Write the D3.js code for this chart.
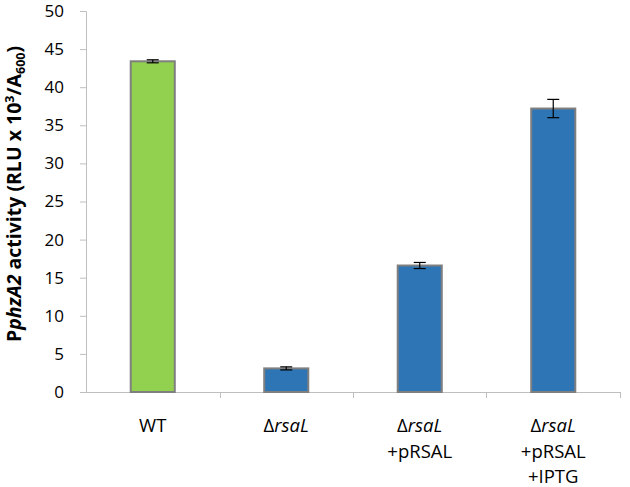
<!DOCTYPE html>
<html>
<head>
<meta charset="utf-8">
<script src="https://cdn.jsdelivr.net/npm/d3@7"></script>
<style>
body { margin: 0; background: #fff; }
text { font-family: "Open Sans", sans-serif; }
</style>
</head>
<body>
<script>
var width = 630, height = 487;

// data
var categories = ["WT", "rsaL", "rsaL+pRSAL", "rsaL+pRSAL+IPTG"];
var values = [43.4, 3.1, 16.6, 37.2];
var errors = [0.2, 0.2, 0.4, 1.2];
var barColors = ["#92D050", "#2E75B6", "#2E75B6", "#2E75B6"];
var yTicks = [0, 5, 10, 15, 20, 25, 30, 35, 40, 45, 50];
// each label is a list of lines; each line a list of [text, italic]
var labelLines = [
  [[["WT", false]]],
  [[["\u0394", false], ["rsaL", true]]],
  [[["\u0394", false], ["rsaL", true]], [["+pRSAL", false]]],
  [[["\u0394", false], ["rsaL", true]], [["+pRSAL", false]], [["+IPTG", false]]]
];

var margin = {left: 86, right: 10, top: 11, bottom: 95};

var svg = d3.select("body").append("svg")
  .attr("width", width).attr("height", height);

var x = d3.scaleBand()
  .domain(categories)
  .range([margin.left, 620])
  .paddingInner(0.67)
  .paddingOuter(0.335);

var y = d3.scaleLinear()
  .domain([0, 50])
  .range([392, margin.top]);

// y axis
var yAxis = svg.append("g")
  .attr("transform", "translate(" + margin.left + ",0)")
  .call(d3.axisLeft(y).tickValues(yTicks).tickSize(6).tickPadding(16));
yAxis.selectAll("path, line").attr("stroke", "#BFBFBF").attr("stroke-width", 1);
yAxis.selectAll("text").attr("font-size", 17).attr("fill", "#000")
  .style("font-family", "'Open Sans', sans-serif");

// x axis line with ticks between categories
var step = x.step();
var xAxis = svg.append("g");
xAxis.append("line")
  .attr("x1", margin.left).attr("x2", 620)
  .attr("y1", y(0) + 0.5).attr("y2", y(0) + 0.5)
  .attr("stroke", "#BFBFBF");
xAxis.selectAll(".xt")
  .data(categories)
  .enter().append("line")
  .attr("x1", function(d) { return Math.round(x(d) + x.bandwidth() / 2 + step / 2) + 0.5; })
  .attr("x2", function(d) { return Math.round(x(d) + x.bandwidth() / 2 + step / 2) + 0.5; })
  .attr("y1", y(0)).attr("y2", y(0) + 6)
  .attr("stroke", "#BFBFBF");

// bars
svg.selectAll(".bar")
  .data(values)
  .enter().append("rect")
  .attr("x", function(d, i) { return x(categories[i]); })
  .attr("y", function(d) { return y(d); })
  .attr("width", x.bandwidth())
  .attr("height", function(d) { return y(0) - y(d); })
  .attr("fill", function(d, i) { return barColors[i]; })
  .attr("stroke", "#7F7F7F")
  .attr("stroke-width", 2);

// error bars
var eb = svg.selectAll(".err")
  .data(values)
  .enter().append("g")
  .attr("stroke", "#000").attr("stroke-width", 1.2);
eb.append("line")
  .attr("x1", function(d, i) { return x(categories[i]) + x.bandwidth() / 2; })
  .attr("x2", function(d, i) { return x(categories[i]) + x.bandwidth() / 2; })
  .attr("y1", function(d, i) { return y(d + errors[i]); })
  .attr("y2", function(d, i) { return y(d - errors[i]); });
eb.selectAll(".cap")
  .data(function(d, i) { return [[d + errors[i], i], [d - errors[i], i]]; })
  .enter().append("line")
  .attr("x1", function(d) { return x(categories[d[1]]) + x.bandwidth() / 2 - 6; })
  .attr("x2", function(d) { return x(categories[d[1]]) + x.bandwidth() / 2 + 6; })
  .attr("y1", function(d) { return y(d[0]); })
  .attr("y2", function(d) { return y(d[0]); });

// category labels
var lab = svg.selectAll(".lab")
  .data(labelLines)
  .enter().append("text")
  .attr("text-anchor", "middle")
  .attr("font-size", 18.5)
  .attr("fill", "#000");
lab.each(function(lines, i) {
  var t = d3.select(this);
  var cx = x(categories[i]) + x.bandwidth() / 2;
  lines.forEach(function(parts, j) {
    parts.forEach(function(p, k) {
      var ts = t.append("tspan").text(p[0]);
      if (k === 0) ts.attr("x", cx).attr("y", 432 + j * 25.5);
      if (p[1]) ts.attr("font-style", "italic");
    });
  });
});

// y axis title
var yt = svg.append("text")
  .attr("transform", "translate(21,194) rotate(-90)")
  .attr("text-anchor", "middle")
  .attr("font-size", 19.5)
  .attr("font-weight", "bold")
  .attr("fill", "#000");
yt.append("tspan").text("P");
yt.append("tspan").text("phzA2").attr("font-style", "italic");
yt.append("tspan").text(" activity (RLU x 10");
yt.append("tspan").text("3").attr("font-size", 12.5).attr("dy", -7);
yt.append("tspan").text("/A").attr("dy", 7);
yt.append("tspan").text("600").attr("font-size", 12.5).attr("dy", 4);
yt.append("tspan").text(")").attr("dy", -4);
</script>
</body>
</html>
